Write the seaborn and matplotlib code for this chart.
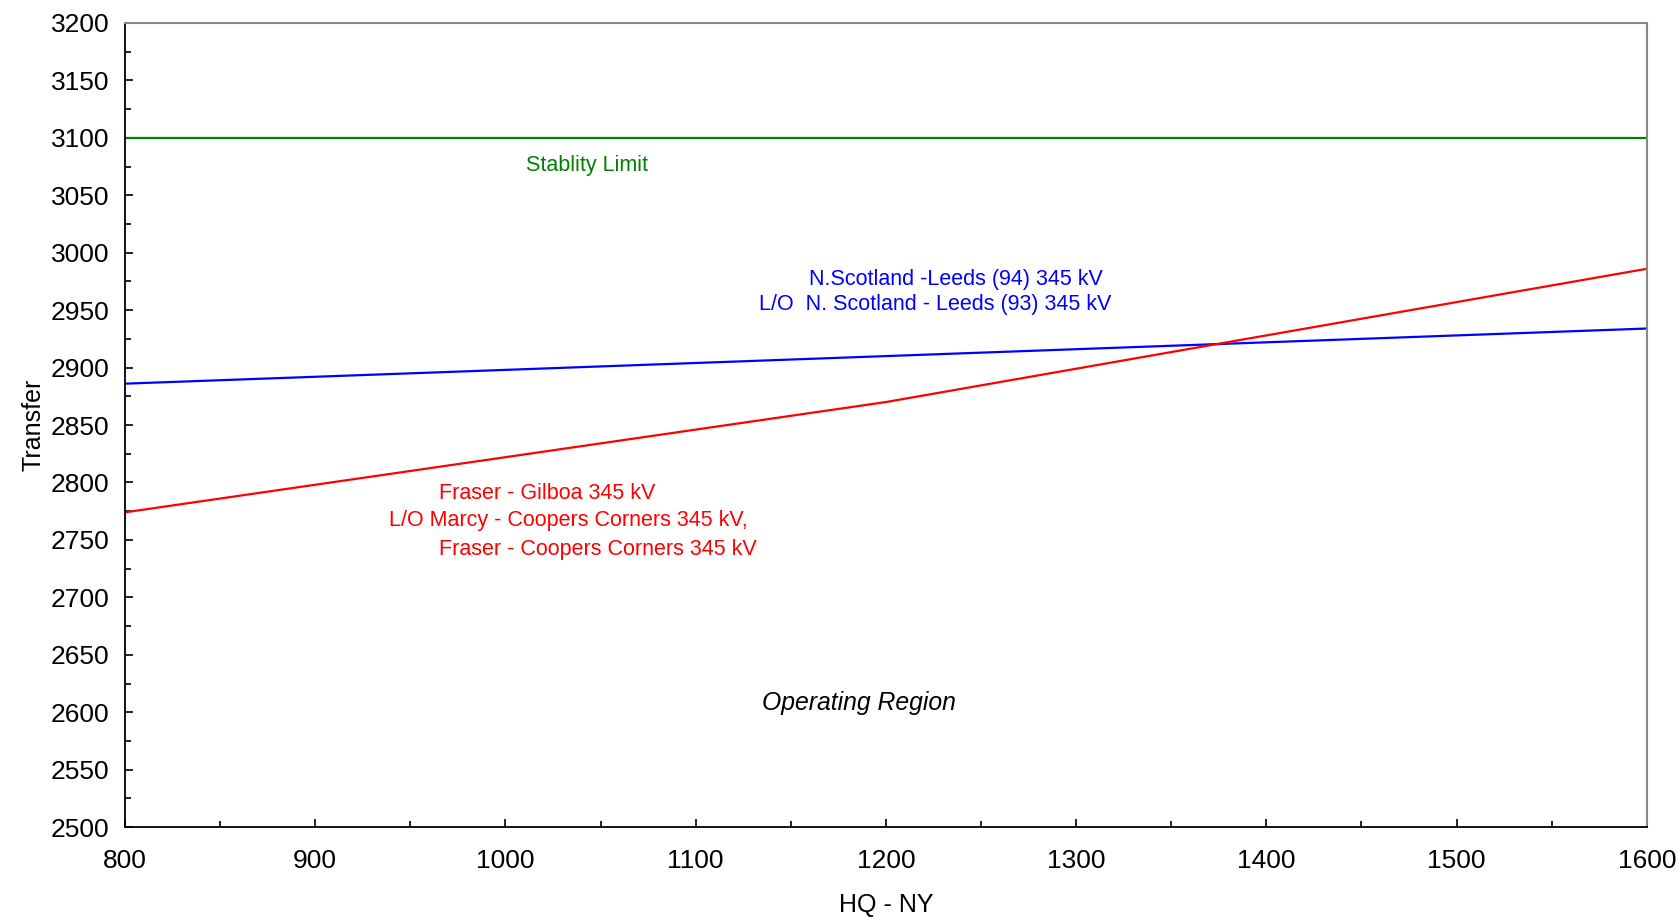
import pandas as pd
import matplotlib.pyplot as plt
import seaborn as sns

# values
hq_ny = [800, 1200, 1600]
stability = [3100, 3100, 3100]
scotland_leeds = [2886, 2910, 2934]
fraser_gilboa = [2774, 2870, 2986]

df = pd.DataFrame({
    'HQ - NY': hq_ny * 3,
    'Transfer': stability + scotland_leeds + fraser_gilboa,
    'limit': ['stab'] * 3 + ['leeds'] * 3 + ['gilboa'] * 3,
})

sns.set_style("white")
plt.rcParams['font.family'] = ['Liberation Sans', 'DejaVu Sans']
plt.rcParams['text.color'] = 'black'
plt.rcParams['axes.labelcolor'] = 'black'
plt.rcParams['xtick.color'] = 'black'
plt.rcParams['ytick.color'] = 'black'

fig = plt.figure(figsize=(16.77, 9.17), dpi=100)
ax = fig.add_axes([0.0745, 0.098, 0.9075, 0.877])

sns.lineplot(data=df, x='HQ - NY', y='Transfer', hue='limit',
             palette={'stab': 'green', 'leeds': 'blue', 'gilboa': 'red'},
             linewidth=1.6, legend=False, ax=ax)

ax.set_xlim(800, 1600)
ax.set_ylim(2500, 3200)
ax.set_xticks(range(800, 1601, 100))
ax.set_yticks(range(2500, 3201, 50))
ax.set_xticks(range(850, 1600, 100), minor=True)
ax.set_yticks(range(2525, 3200, 50), minor=True)
ax.tick_params(axis='both', which='both', direction='in', width=1.2,
               color='black', labelsize=19, bottom=True, left=True)
ax.tick_params(axis='x', which='major', length=5.5, pad=16)
ax.tick_params(axis='x', which='minor', length=4)
ax.tick_params(axis='y', which='major', length=6, pad=11)
ax.tick_params(axis='y', which='minor', length=4.5)

for side in ['left', 'bottom']:
    ax.spines[side].set_color('black')
    ax.spines[side].set_linewidth(1.3)
for side in ['right', 'top']:
    ax.spines[side].set_color('#888888')
    ax.spines[side].set_linewidth(1.5)

ax.set_xlabel('HQ - NY', fontsize=18, labelpad=14)
ax.set_ylabel('Transfer', fontsize=18, labelpad=4)

ax.text(1011, 3076, 'Stablity Limit', color='green', fontsize=15.5, ha='left', va='center')
ax.text(1237, 2977, 'N.Scotland -Leeds (94) 345 kV', color='blue', fontsize=15.5, ha='center', va='center')
ax.text(1226, 2955, 'L/O  N. Scotland - Leeds (93) 345 kV', color='blue', fontsize=15.5, ha='center', va='center')
ax.text(965, 2790, 'Fraser - Gilboa 345 kV', color='red', fontsize=15.5, ha='left', va='center')
ax.text(939, 2767, 'L/O Marcy - Coopers Corners 345 kV,', color='red', fontsize=15.5, ha='left', va='center')
ax.text(965, 2742, 'Fraser - Coopers Corners 345 kV', color='red', fontsize=15.5, ha='left', va='center')
ax.text(1186, 2608, 'Operating Region', color='black', fontsize=17.8, style='italic', ha='center', va='center')

fig.savefig('out.png', dpi=100)
